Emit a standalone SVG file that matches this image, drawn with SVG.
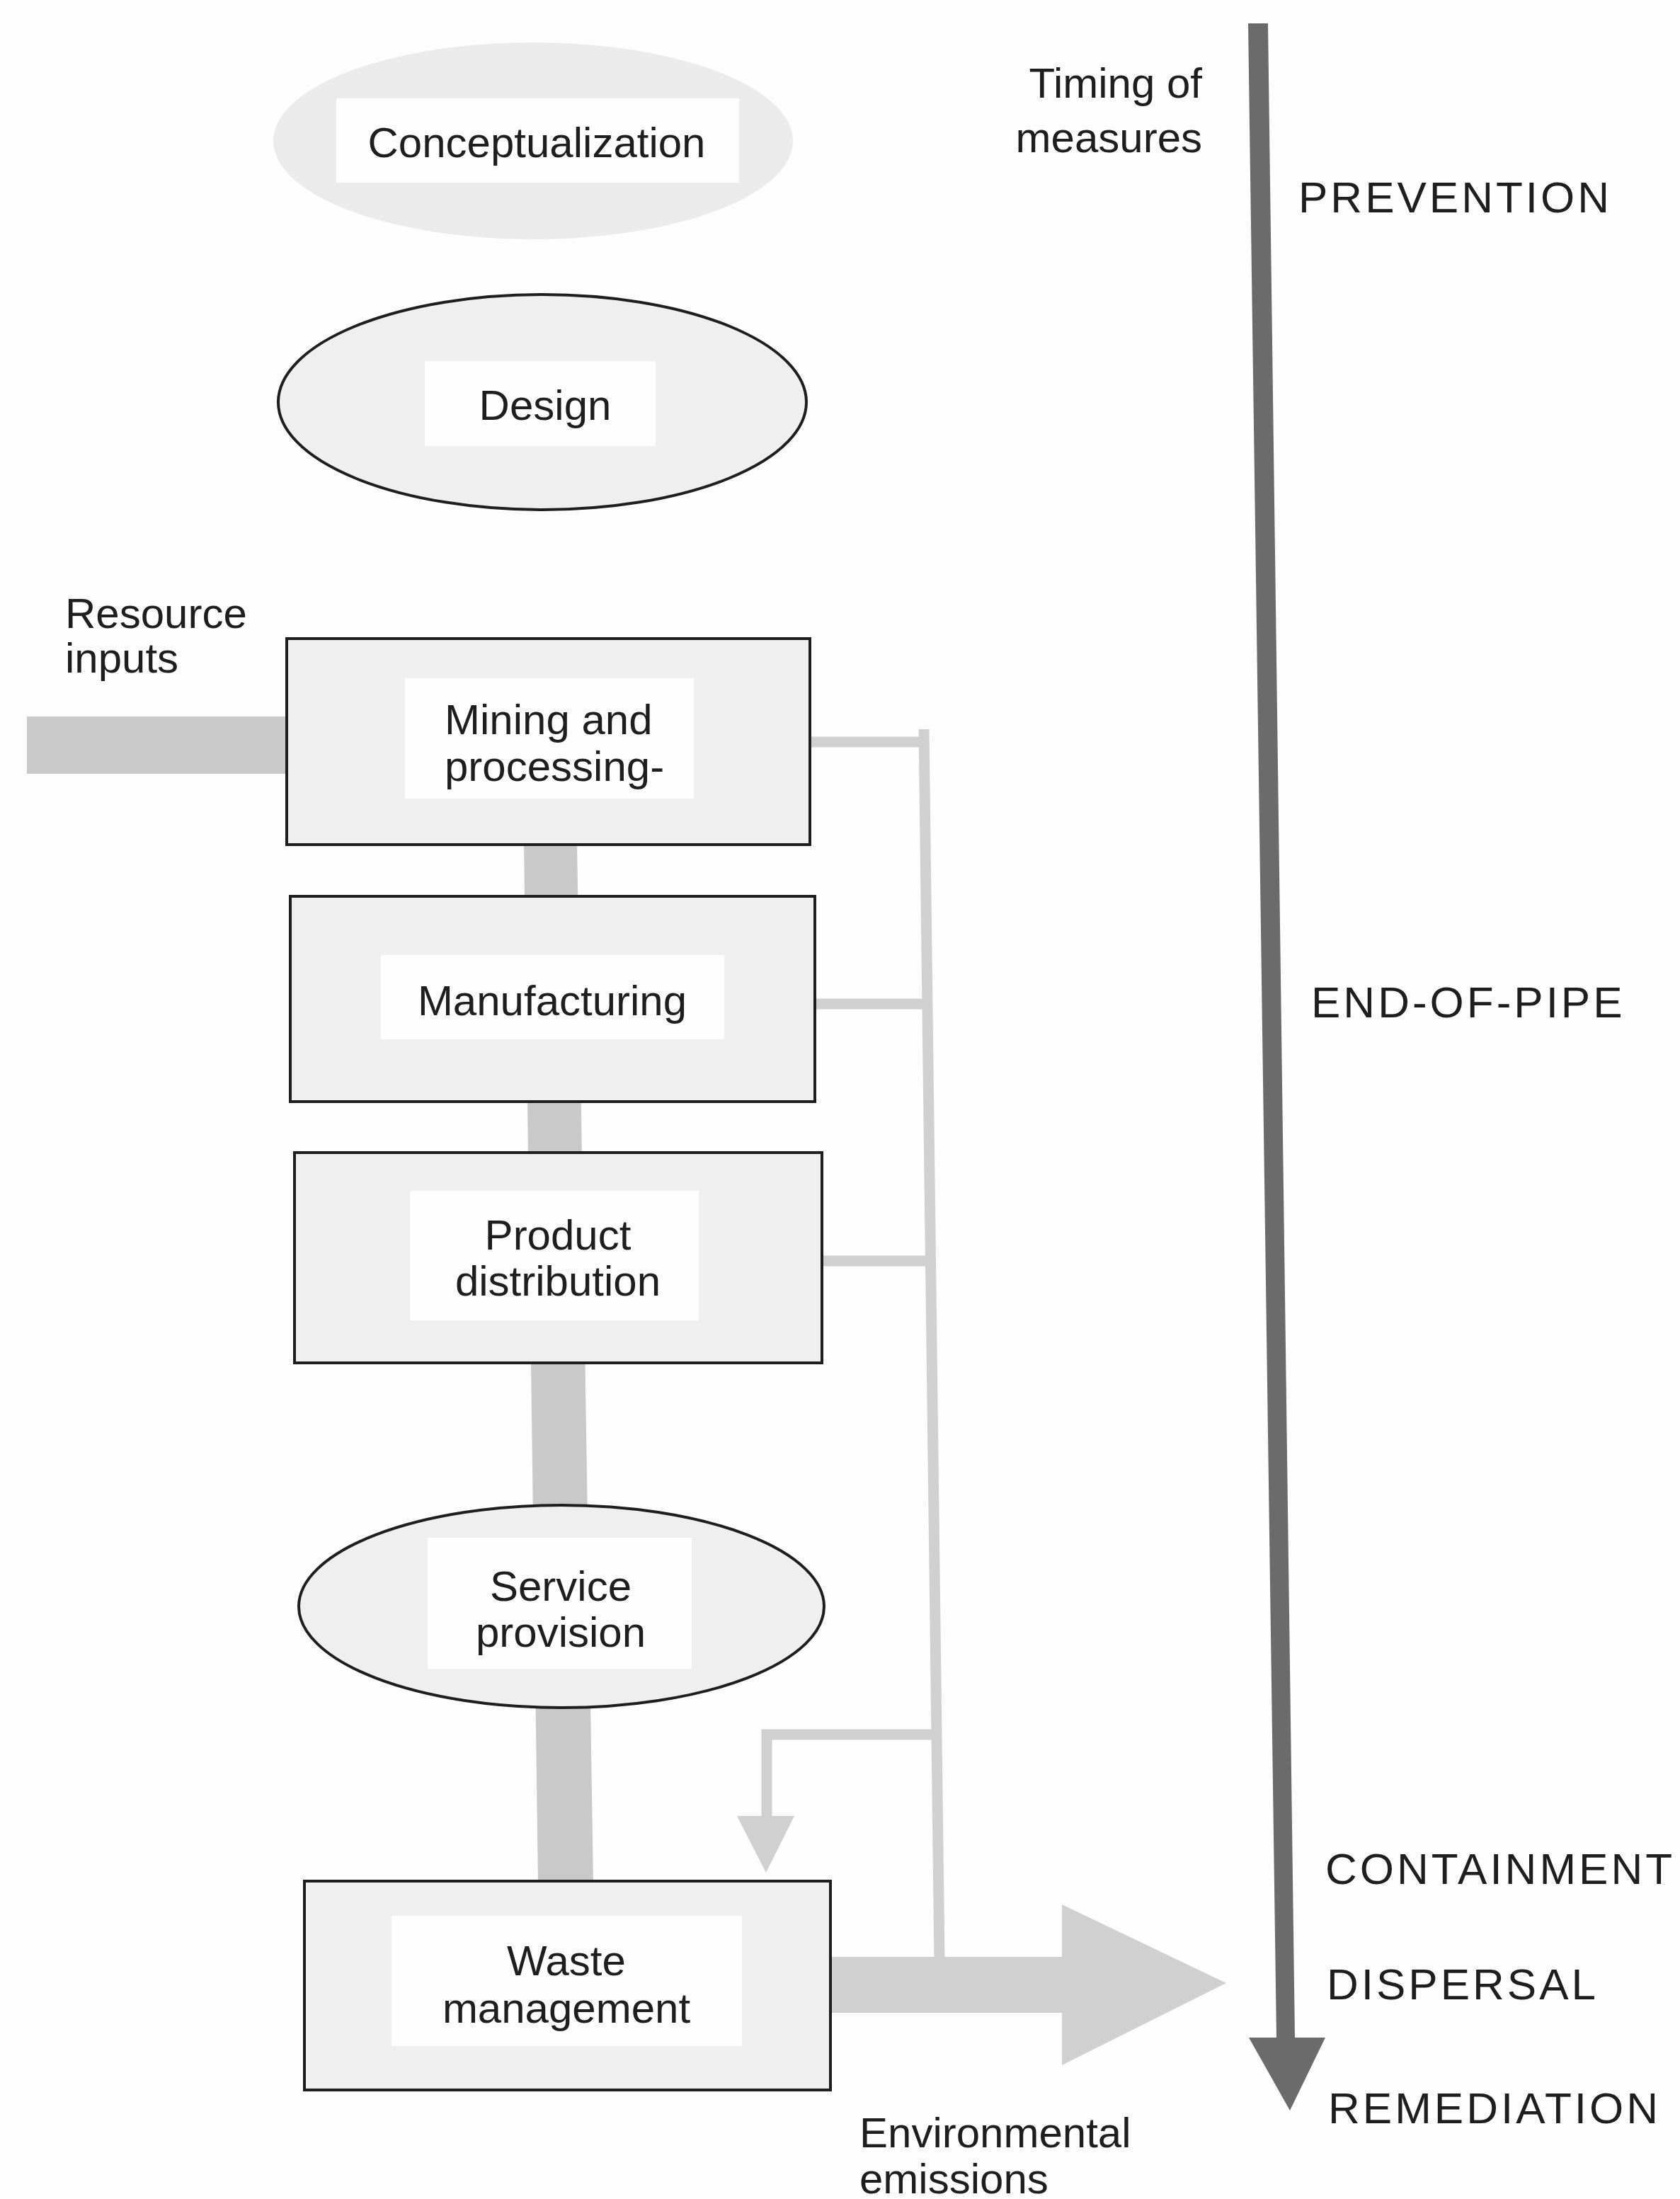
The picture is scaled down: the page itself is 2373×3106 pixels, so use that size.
<svg xmlns="http://www.w3.org/2000/svg" width="2373" height="3106" viewBox="0 0 2373 3106">
  <style>
    .lbl { font-family: "Liberation Sans", Arial, sans-serif; font-size: 60px; fill: #1e1e1e; }
    .mid { text-anchor: middle; }
    .end { text-anchor: end; }
    .caps { font-family: "Liberation Sans", Arial, sans-serif; font-size: 62px; letter-spacing: 4px; fill: #1e1e1e; }
    .box { fill: #efefef; stroke: #1e1e1e; stroke-width: 4; }
    .oval { fill: #efefef; stroke: #1e1e1e; stroke-width: 4; }
    .pad { fill: #fdfdfd; }
    .flow { fill: #c9c9c9; }
    .emit { stroke: #d0d0d0; stroke-width: 15; fill: none; }
    .emitfill { fill: #d0d0d0; }
  </style>

  <rect width="2373" height="3106" fill="#fdfdfd"/>

  <!-- material flow and emission connectors (behind the nodes) -->
  <g id="connectors">
    <!-- resource inputs bar -->
    <rect class="flow" x="38" y="1012" width="372" height="81" fill="#cfcfcf"/>
    <!-- main product-chain bar -->
    <polygon class="flow" points="740,1190 815,1190 838,2660 760,2660"/>
    <!-- emission collector -->
    <line class="emit" x1="1305" y1="1030" x2="1327" y2="2770"/>
    <line class="emit" x1="1138" y1="1048" x2="1312" y2="1048"/>
    <line class="emit" x1="1143" y1="1418" x2="1317" y2="1418"/>
    <line class="emit" x1="1152" y1="1781" x2="1320" y2="1781"/>
    <!-- branch to waste management -->
    <polyline class="emit" points="1325,2450 1083,2450 1083,2572"/>
    <polygon class="emitfill" points="1041,2565 1122,2565 1082,2645"/>
    <!-- environmental emissions arrow -->
    <polygon class="emitfill" points="1172,2764 1500,2764 1500,2690 1732,2801 1500,2917 1500,2843 1172,2843"/>
    <!-- timing of measures arrow -->
    <polygon fill="#6b6b6b" points="1763,33 1791,33 1829,2878 1872,2878 1822,2981 1764,2878 1803,2878"/>
  </g>

  <g id="conceptualization">
    <ellipse cx="753" cy="199" rx="367" ry="139" fill="#ebebeb"/>
    <rect class="pad" x="475" y="139" width="569" height="119"/>
    <text class="lbl mid" x="758" y="222">Conceptualization</text>
  </g>

  <g id="design">
    <ellipse class="oval" cx="766" cy="568" rx="373" ry="152"/>
    <rect class="pad" x="600" y="510" width="326" height="120"/>
    <text class="lbl mid" x="770" y="593">Design</text>
  </g>

  <g id="mining">
    <rect class="box" x="405" y="902" width="739" height="291"/>
    <rect class="pad" x="572" y="958" width="408" height="170"/>
    <text class="lbl" x="628" y="1037">Mining and</text>
    <text class="lbl" x="628" y="1103">processing-</text>
  </g>

  <g id="manufacturing">
    <rect class="box" x="410" y="1266" width="741" height="290"/>
    <rect class="pad" x="538" y="1349" width="485" height="119"/>
    <text class="lbl mid" x="780" y="1434">Manufacturing</text>
  </g>

  <g id="distribution">
    <rect class="box" x="416" y="1628" width="745" height="297"/>
    <rect class="pad" x="579" y="1682" width="408" height="183"/>
    <text class="lbl mid" x="788" y="1765">Product</text>
    <text class="lbl mid" x="788" y="1830">distribution</text>
  </g>

  <g id="service">
    <ellipse class="oval" cx="793" cy="2269" rx="371" ry="143"/>
    <rect class="pad" x="604" y="2172" width="373" height="185"/>
    <text class="lbl mid" x="792" y="2261">Service</text>
    <text class="lbl mid" x="792" y="2326">provision</text>
  </g>

  <g id="waste">
    <rect class="box" x="430" y="2657" width="743" height="295"/>
    <rect class="pad" x="553" y="2706" width="495" height="184"/>
    <text class="lbl mid" x="800" y="2790">Waste</text>
    <text class="lbl mid" x="800" y="2857">management</text>
  </g>

  <g id="labels">
    <text class="lbl end" x="1698" y="138">Timing of</text>
    <text class="lbl end" x="1698" y="215">measures</text>
    <text class="lbl" x="92" y="887">Resource</text>
    <text class="lbl" x="92" y="950">inputs</text>
    <text class="lbl" x="1214" y="3033">Environmental</text>
    <text class="lbl" x="1214" y="3098">emissions</text>
    <text class="caps" x="1834" y="300">PREVENTION</text>
    <text class="caps" x="1852" y="1437">END-OF-PIPE</text>
    <text class="caps" x="1872" y="2661">CONTAINMENT</text>
    <text class="caps" x="1874" y="2824">DISPERSAL</text>
    <text class="caps" x="1876" y="2999">REMEDIATION</text>
  </g>
</svg>
